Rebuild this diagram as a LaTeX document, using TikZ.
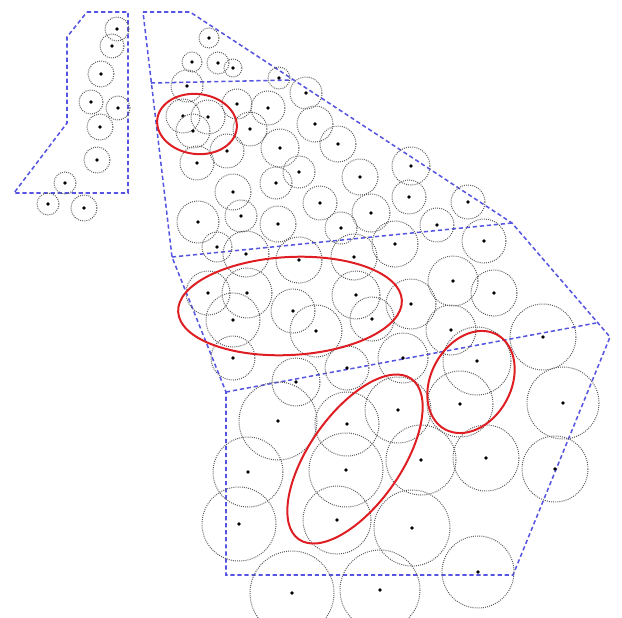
\documentclass[tikz,border=0pt]{standalone}
\definecolor{zoneblue}{RGB}{85,85,225}
\definecolor{ringred}{RGB}{222,30,35}
\tikzset{
  zone/.style={draw=zoneblue,line width=1.3pt,dash pattern=on 3.6pt off 2.4pt},
  reach/.style={draw=black!65,line width=0.85pt,dash pattern=on 0.8pt off 1pt},
  ring/.style={draw=ringred,line width=1.7pt},
}
\begin{document}
\begin{tikzpicture}[x=0.03cm,y=-0.03cm]
\useasboundingbox (0,0) rectangle (622,617);
\clip (0,0) rectangle (622,617);
% zone outlines
\coordinate (a1) at (87,12);  \coordinate (a2) at (128,12);
\coordinate (a3) at (128,193); \coordinate (a4) at (14,193);
\coordinate (a5) at (67,123); \coordinate (a6) at (67,37);
\coordinate (b1) at (143,12); \coordinate (b2) at (190,12);
\coordinate (b3) at (512,223); \coordinate (b4) at (610,337);
\coordinate (b5) at (513,575); \coordinate (b6) at (226,575);
\coordinate (b7) at (226,392); \coordinate (b8) at (172,257);
\coordinate (d1) at (151,83); \coordinate (d2) at (292,80);
\coordinate (d3) at (596,323);
\draw[zone] (a1) -- (a2) -- (a3) -- (a4) -- (a5) -- (a6) -- cycle;
\draw[zone] (b1) -- (b2) -- (b3) -- (b4) -- (b5) -- (b6) -- (b7) -- (b8) -- cycle;
\draw[zone] (d1) -- (d2);
\draw[zone] (b8) -- (b3);
\draw[zone] (b7) -- (d3);
% sites with their reach
\foreach \x/\y/\r in {%
  117/29/12,112/46/12,101/74/13,91/102/12,118/108/12,100/127/13,97/160/13,65/183/11,48/204/11,84/208/13,
  209/38/10,192/62/10,218/63/11,233/68/9,187/86/16,279/78/11,306/93/16,183/116/17,208/117/17,193/131/17,
  237/104/15,268/108/17,315/124/18,250/129/17,280/148/19,227/151/17,197/163/17,338/144/18,299/172/16,
  276/183/16,360/177/18,411/166/19,233/192/18,320/203/17,409/197/17,468/202/17,241/216/16,198/222/21,
  278/224/18,371/213/19,341/228/16,437/225/17,217/247/15,246/254/23,299/260/23,354/257/23,395/244/23,484/241/22,
  453/281/25,494/293/23,411/304/25,451/330/25,208/293/22,247/293/25,293/311/22,316/331/26,356/295/24,
  372/319/22,233/320/27,233/358/22,403/358/25,347/368/22,477/361/34,543/337/33,
  296/382/24,278/421/39,347/424/32,398/410/33,460/404/33,563/403/36,248/472/35,346/470/37,421/460/35,
  486/458/33,555/469/33,239/524/37,337/520/34,412/528/38,292/593/42,380/590/40,478/572/36}{
  \draw[reach] (\x,\y) circle[radius=\r];
  \fill (\x,\y) circle[radius=1.9];}
% highlighted groups
\draw[ring] (197,124) ellipse[x radius=40,y radius=30,rotate=-7];
\draw[ring] (290,306) ellipse[x radius=112,y radius=49,rotate=3];
\draw[ring] (355,459) ellipse[x radius=98,y radius=46,rotate=55];
\draw[ring] (471,382) ellipse[x radius=54,y radius=40,rotate=61];
\end{tikzpicture}
\end{document}
